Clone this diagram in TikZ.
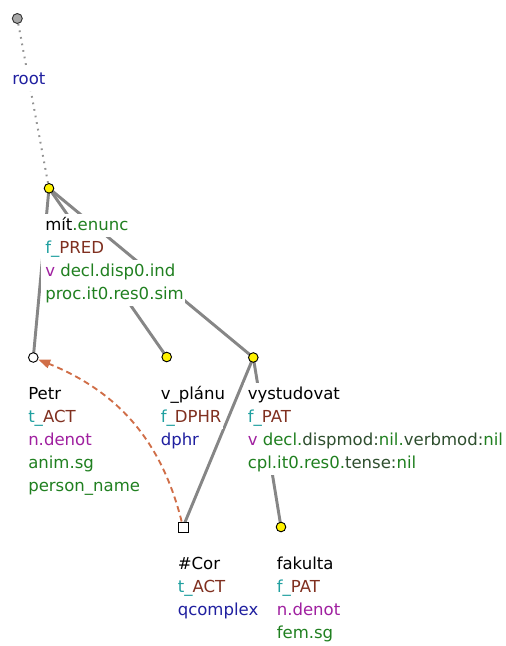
\documentclass[tikz,border=0pt]{standalone}
\usepackage{fontspec}
\setmainfont{DejaVu Sans}
\usetikzlibrary{arrows.meta}
\definecolor{cfun}{HTML}{20A0A0}
\definecolor{cfn}{HTML}{803020}
\definecolor{cpos}{HTML}{A020A0}
\definecolor{cgr}{HTML}{208020}
\definecolor{cgn}{HTML}{2F4F2F}
\definecolor{cbl}{HTML}{2020A0}
\definecolor{carr}{HTML}{D06E48}
\definecolor{cedge}{HTML}{868686}
\definecolor{crootfill}{HTML}{A8A8A8}
\newcommand\wln[1]{{\fboxsep=0pt\colorbox{white}{\rule[-5.175pt]{0pt}{17.25pt}\hspace{3pt}#1\hspace{0.8pt}}}}
\newcommand\fnc[2]{\textcolor{cfun}{#1}\textcolor{cfn}{#2}}
\pgfdeclarelayer{bg}
\pgfdeclarelayer{mid}
\pgfsetlayers{bg,mid,main}
\tikzset{
  tnode/.style={circle, draw=black, line width=0.7pt, fill=yellow, minimum size=7.2pt, inner sep=0pt},
  wnode/.style={circle, draw=black, line width=0.7pt, fill=white, minimum size=7.2pt, inner sep=0pt},
  rootnode/.style={circle, draw=black!80, line width=0.7pt, fill=crootfill, minimum size=7.5pt, inner sep=0pt},
  snode/.style={rectangle, draw=black, line width=0.7pt, fill=white, minimum size=7.5pt, inner sep=0pt},
  lbl/.style={anchor=base west, inner sep=0pt, font=\fontsize{12.4pt}{17.25pt}\selectfont},
  edgeline/.style={draw=cedge, line width=2.2pt},
  rootedge/.style={draw=gray!85, line width=1.5pt, dash pattern=on 1.3pt off 3.7pt},
  corefarrow/.style={draw=carr, line width=1.4pt, dash pattern=on 4.5pt off 3pt, -{Triangle[length=9pt,width=6.5pt]}}
}
\begin{document}
\begin{tikzpicture}[x=0.75pt,y=0.75pt]
\useasboundingbox (0,0) rectangle (506,-646);
% tree nodes
\node[rootnode] (root) at (17.3,-18.5) {};
\node[tnode] (mit) at (49,-188.3) {};
\node[wnode] (petr) at (33.3,-357.5) {};
\node[tnode] (vplanu) at (166.7,-357) {};
\node[tnode] (vyst) at (253.3,-357.5) {};
\node[snode] (cor) at (183,-527) {};
\node[tnode] (fak) at (281,-527) {};
% edges
\begin{pgfonlayer}{bg}
\draw[rootedge] (root) -- (mit);
\draw[edgeline] (mit.center) -- (petr.center);
\draw[edgeline] (mit.center) -- (vplanu.center);
\draw[edgeline] (mit.center) -- (vyst.center);
\draw[edgeline] (vyst.center) -- (cor.center);
\draw[edgeline] (vyst.center) -- (fak.center);
\end{pgfonlayer}
% labels
\begin{pgfonlayer}{mid}
\node[lbl] (rootL) at (8,-84) {\begin{tabular}[t]{@{}l@{}}\wln{\textcolor{cbl}{root}}\end{tabular}};
\node[lbl] (mitL) at (41,-230) {\begin{tabular}[t]{@{}l@{}}
\wln{mít\textcolor{cgr}{.enunc}}\\
\wln{\fnc{f\_}{PRED}}\\
\wln{\textcolor{cpos}{v} \textcolor{cgr}{decl.disp0.ind}}\\
\wln{\textcolor{cgr}{proc.it0.res0.sim}}
\end{tabular}};
\node[lbl] (petrL) at (24,-399) {\begin{tabular}[t]{@{}l@{}}
\wln{Petr}\\
\wln{\fnc{t\_}{ACT}}\\
\wln{\textcolor{cpos}{n.denot}}\\
\wln{\textcolor{cgr}{anim.sg}}\\
\wln{\textcolor{cgr}{person\_name}}
\end{tabular}};
\node[lbl] (vplanuL) at (156.5,-399) {\begin{tabular}[t]{@{}l@{}}
\wln{v\_plánu}\\
\wln{\fnc{f\_}{DPHR}}\\
\wln{\textcolor{cbl}{dphr}}
\end{tabular}};
\node[lbl] (vystL) at (243.5,-399) {\begin{tabular}[t]{@{}l@{}}
\wln{vystudovat}\\
\wln{\fnc{f\_}{PAT}}\\
\wln{\textcolor{cpos}{v} \textcolor{cgr}{decl.}\textcolor{cgn}{dispmod:}\textcolor{cgr}{nil.}\textcolor{cgn}{verbmod:}\textcolor{cgr}{nil}}\\
\wln{\textcolor{cgr}{cpl.it0.res0.}\textcolor{cgn}{tense:}\textcolor{cgr}{nil}}
\end{tabular}};
\node[lbl] (corL) at (173.5,-569) {\begin{tabular}[t]{@{}l@{}}
\wln{\#Cor}\\
\wln{\fnc{t\_}{ACT}}\\
\wln{\textcolor{cbl}{qcomplex}}
\end{tabular}};
\node[lbl] (fakL) at (272.5,-569) {\begin{tabular}[t]{@{}l@{}}
\wln{fakulta}\\
\wln{\fnc{f\_}{PAT}}\\
\wln{\textcolor{cpos}{n.denot}}\\
\wln{\textcolor{cgr}{fem.sg}}
\end{tabular}};
\end{pgfonlayer}
% coreference arrow
\draw[corefarrow] (cor) to[out=104,in=-22] (petr);
\end{tikzpicture}
\end{document}
